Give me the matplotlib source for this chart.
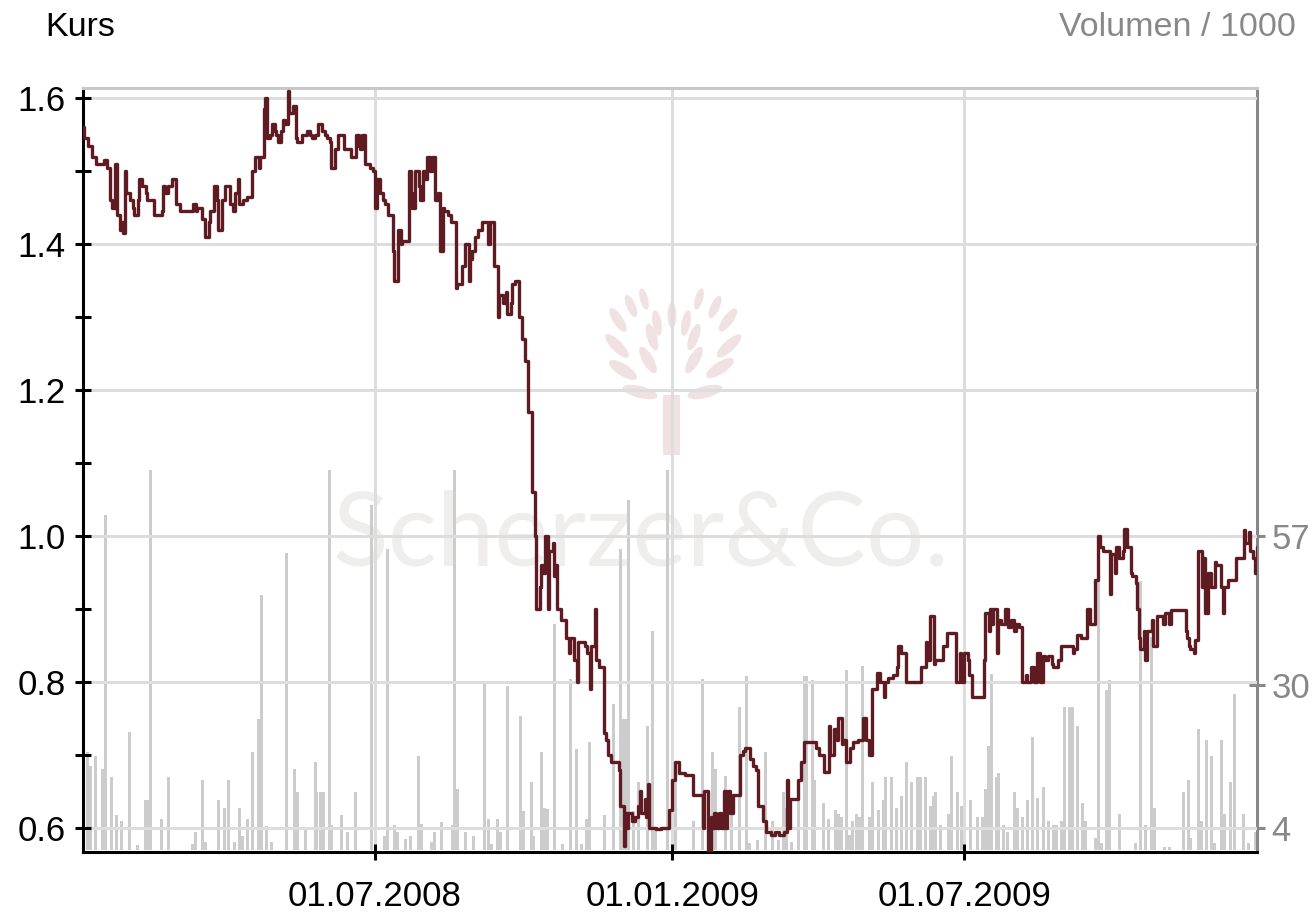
import matplotlib
matplotlib.use('Agg')
import matplotlib.pyplot as plt
import matplotlib.dates as mdates
from matplotlib.patches import Ellipse, Rectangle
import pandas as pd

plt.rcParams['font.family'] = ['Liberation Sans', 'DejaVu Sans']

start = pd.Timestamp('2008-01-01')

# Kurs: days since 01.01.2008 and closing price
kurs_tag = [1, 2, 4, 7, 9, 13, 14, 16, 18, 19,
            21, 22, 24, 25, 26, 27, 28, 30, 32, 33,
            35, 36, 38, 40, 41, 43, 45, 48, 50, 51,
            52, 54, 56, 58, 59, 61, 65, 67, 69, 71,
            72, 75, 77, 79, 80, 82, 84, 85, 87, 89,
            90, 92, 94, 95, 97, 98, 100, 102, 103, 105,
            106, 108, 110, 111, 113, 114, 115, 117, 118, 120,
            121, 122, 124, 125, 126, 128, 129, 131, 133, 134,
            137, 139, 140, 142, 143, 145, 147, 149, 151, 152,
            154, 155, 157, 159, 162, 163, 165, 167, 168, 170,
            172, 173, 174, 176, 178, 179, 181, 182, 183, 185,
            187, 188, 190, 193, 194, 196, 198, 199, 201, 203,
            204, 205, 207, 209, 210, 212, 213, 214, 216, 217,
            219, 221, 222, 224, 225, 227, 229, 230, 232, 233,
            236, 238, 240, 241, 242, 244, 246, 248, 250, 252,
            253, 255, 256, 258, 259, 261, 263, 264, 266, 267,
            269, 271, 273, 275, 277, 279, 281, 282, 284, 285,
            286, 287, 289, 290, 292, 293, 294, 295, 297, 300,
            302, 303, 304, 305, 307, 308, 310, 312, 313, 315,
            316, 318, 319, 321, 322, 324, 325, 326, 328, 330,
            333, 334, 336, 337, 338, 339, 341, 343, 345, 346,
            347, 349, 350, 351, 352, 354, 356, 359, 363, 364,
            366, 368, 370, 374, 377, 379, 382, 385, 386, 388,
            390, 391, 392, 393, 395, 396, 398, 399, 400, 402,
            404, 406, 408, 410, 411, 414, 416, 418, 419, 422,
            424, 427, 430, 432, 435, 437, 438, 439, 442, 444,
            446, 448, 451, 453, 455, 457, 460, 463, 464, 466,
            468, 469, 471, 472, 474, 476, 478, 481, 484, 486,
            488, 490, 493, 495, 497, 498, 500, 503, 505, 506,
            508, 509, 511, 515, 518, 520, 522, 523, 524, 526,
            528, 529, 531, 534, 536, 539, 542, 544, 545, 547,
            549, 550, 552, 555, 558, 559, 560, 562, 563, 564,
            565, 567, 568, 570, 572, 574, 576, 578, 579, 581,
            583, 585, 586, 588, 590, 592, 594, 596, 597, 599,
            601, 602, 605, 607, 608, 610, 612, 614, 615, 617,
            619, 621, 623, 625, 627, 628, 630, 631, 633, 635,
            636, 637, 638, 640, 641, 643, 645, 646, 648, 649,
            650, 651, 653, 654, 655, 656, 658, 659, 660, 661,
            663, 664, 666, 669, 670, 671, 674, 675, 678, 680,
            682, 684, 685, 686, 687, 689, 690, 692, 694, 695,
            696, 698, 700, 702, 703, 705, 706, 707, 708, 710,
            712, 715, 719, 720, 721, 723, 724, 726, 727, 728,
            729]
kurs = [1.56, 1.545, 1.535, 1.52, 1.51, 1.51, 1.515, 1.505, 1.46, 1.45,
        1.51, 1.44, 1.42, 1.43, 1.415, 1.50, 1.47, 1.46, 1.45, 1.44,
        1.46, 1.49, 1.48, 1.47, 1.46, 1.46, 1.44, 1.44, 1.445, 1.48,
        1.47, 1.48, 1.49, 1.49, 1.455, 1.445, 1.445, 1.445, 1.455, 1.445,
        1.45, 1.435, 1.41, 1.43, 1.445, 1.48, 1.46, 1.42, 1.46, 1.48,
        1.48, 1.455, 1.445, 1.47, 1.49, 1.455, 1.46, 1.46, 1.465, 1.465,
        1.50, 1.52, 1.505, 1.52, 1.585, 1.60, 1.545, 1.55, 1.565, 1.555,
        1.55, 1.54, 1.555, 1.57, 1.565, 1.61, 1.58, 1.59, 1.545, 1.54,
        1.55, 1.55, 1.555, 1.55, 1.545, 1.55, 1.565, 1.555, 1.55, 1.545,
        1.54, 1.505, 1.53, 1.55, 1.55, 1.53, 1.53, 1.52, 1.52, 1.55,
        1.535, 1.53, 1.55, 1.51, 1.51, 1.505, 1.50, 1.45, 1.49, 1.47,
        1.46, 1.455, 1.44, 1.39, 1.35, 1.42, 1.40, 1.405, 1.405, 1.50,
        1.47, 1.45, 1.50, 1.48, 1.46, 1.50, 1.49, 1.52, 1.50, 1.52,
        1.46, 1.47, 1.39, 1.45, 1.445, 1.44, 1.43, 1.43, 1.34, 1.345,
        1.37, 1.40, 1.35, 1.38, 1.39, 1.41, 1.42, 1.43, 1.43, 1.40,
        1.43, 1.43, 1.37, 1.30, 1.33, 1.32, 1.335, 1.305, 1.32, 1.345,
        1.35, 1.30, 1.27, 1.24, 1.17, 1.06, 1.00, 0.90, 0.93, 0.96,
        0.95, 1.00, 0.90, 0.98, 0.99, 0.945, 0.96, 0.90, 0.885, 0.86,
        0.84, 0.86, 0.86, 0.83, 0.80, 0.855, 0.855, 0.85, 0.84, 0.79,
        0.85, 0.90, 0.83, 0.82, 0.82, 0.73, 0.72, 0.70, 0.69, 0.69,
        0.68, 0.63, 0.575, 0.62, 0.60, 0.62, 0.61, 0.615, 0.63, 0.65,
        0.62, 0.64, 0.615, 0.66, 0.60, 0.60, 0.598, 0.60, 0.60, 0.625,
        0.665, 0.69, 0.675, 0.673, 0.673, 0.645, 0.645, 0.60, 0.65, 0.565,
        0.615, 0.60, 0.62, 0.60, 0.62, 0.60, 0.65, 0.60, 0.65, 0.62,
        0.645, 0.645, 0.70, 0.705, 0.71, 0.695, 0.685, 0.68, 0.63, 0.61,
        0.595, 0.59, 0.595, 0.59, 0.595, 0.665, 0.60, 0.64, 0.64, 0.665,
        0.69, 0.718, 0.718, 0.718, 0.71, 0.70, 0.677, 0.74, 0.70, 0.735,
        0.72, 0.75, 0.715, 0.72, 0.69, 0.71, 0.718, 0.72, 0.75, 0.72,
        0.70, 0.79, 0.812, 0.80, 0.78, 0.80, 0.805, 0.81, 0.82, 0.85,
        0.84, 0.84, 0.80, 0.80, 0.80, 0.82, 0.82, 0.855, 0.83, 0.89,
        0.825, 0.83, 0.83, 0.85, 0.867, 0.867, 0.80, 0.84, 0.80, 0.84,
        0.83, 0.81, 0.78, 0.78, 0.78, 0.83, 0.895, 0.87, 0.90, 0.88,
        0.90, 0.84, 0.885, 0.88, 0.90, 0.875, 0.885, 0.87, 0.88, 0.875,
        0.80, 0.81, 0.80, 0.82, 0.80, 0.84, 0.80, 0.835, 0.83, 0.835,
        0.825, 0.82, 0.83, 0.85, 0.85, 0.85, 0.85, 0.84, 0.845, 0.865,
        0.86, 0.86, 0.90, 0.88, 0.88, 0.94, 1.00, 0.985, 0.98, 0.98,
        0.98, 0.92, 0.975, 0.95, 0.985, 0.97, 0.98, 1.01, 0.985, 0.985,
        0.95, 0.945, 0.935, 0.90, 0.86, 0.845, 0.87, 0.83, 0.87, 0.87,
        0.885, 0.85, 0.89, 0.89, 0.88, 0.895, 0.88, 0.898, 0.898, 0.898,
        0.898, 0.87, 0.86, 0.85, 0.845, 0.84, 0.858, 0.98, 0.93, 0.97,
        0.895, 0.95, 0.93, 0.965, 0.96, 0.96, 0.93, 0.895, 0.93, 0.94,
        0.94, 0.97, 0.97, 1.008, 0.99, 1.005, 0.98, 0.97, 0.95, 0.985,
        0.965]

# Volumen / 1000: days since 01.01.2008
vol_tag = [4, 6, 9, 13, 15, 19, 22, 25, 30, 35,
           40, 41, 43, 50, 54, 69, 71, 75, 77, 85,
           89, 91, 95, 98, 100, 103, 106, 110, 112, 115,
           118, 127, 132, 134, 139, 145, 146, 148, 150, 154,
           155, 161, 165, 170, 180, 188, 190, 194, 196, 201,
           204, 209, 211, 217, 219, 223, 230, 231, 233, 238,
           243, 250, 252, 254, 258, 260, 264, 272, 274, 279,
           280, 285, 287, 289, 293, 298, 303, 307, 310, 313,
           315, 324, 330, 334, 336, 338, 339, 342, 345, 351,
           354, 356, 363, 366, 368, 379, 385, 391, 393, 399,
           403, 408, 412, 414, 419, 424, 428, 432, 435, 437,
           440, 444, 448, 449, 453, 454, 460, 463, 467, 469,
           471, 474, 476, 478, 480, 482, 484, 488, 490, 494,
           497, 498, 502, 505, 508, 511, 514, 518, 520, 523,
           526, 528, 529, 532, 537, 539, 543, 545, 547, 551,
           555, 558, 560, 562, 564, 567, 568, 571, 574, 578,
           580, 583, 586, 589, 592, 596, 599, 602, 604, 607,
           609, 612, 614, 617, 620, 622, 628, 630, 632, 635,
           637, 643, 653, 656, 659, 663, 665, 671, 674, 683,
           686, 687, 692, 694, 697, 700, 702, 706, 708, 712,
           714, 720, 723, 727]
volumen = [17.8, 15.3, 17, 14.7, 60.8, 13.3, 6.4, 5.2, 21.4, 0.9,
           9.1, 9.1, 69, 5.7, 13.3, 1, 3.3, 12.8, 1.5, 9.1,
           7.7, 12.8, 1.5, 7.7, 2.6, 5.7, 17.8, 23.8, 46.4, 4.3,
           1.5, 54, 14.7, 10.5, 4, 16, 10.5, 10.5, 10.5, 69,
           4.5, 6.4, 3.3, 10.5, 62.6, 2.6, 54.7, 4.5, 3.3, 2,
           2.6, 17, 4.8, 1.5, 3.3, 5, 4.5, 69, 11, 3.3,
           2.6, 30.2, 5.7, 1, 5.7, 3.3, 29.7, 24.3, 7, 12.3,
           2.6, 17.8, 7.7, 7.5, 41, 1, 31, 18.4, 1, 5.7,
           19.6, 6.3, 26.6, 54.7, 23.8, 23.8, 63.6, 7, 12.3, 22.6,
           39.7, 3.7, 69, 12.3, 12.3, 5.2, 31, 17.8, 14.7, 13.4,
           8, 26, 31.6, 1.2, 1.8, 17.8, 5.2, 1.8, 10.5, 7.7,
           1.5, 9.1, 31.6, 31.6, 30.8, 12.8, 8.5, 5.7, 7.2, 6.6,
           6, 32.6, 2.8, 5.2, 6.6, 6, 33.4, 6, 12.3, 7.2,
           9.1, 13.3, 13.3, 7.7, 9.8, 16, 12.3, 13.3, 13.3, 13.3,
           8, 9.8, 10.5, 4.5, 6.6, 17, 10.5, 8, 14, 9.1,
           6, 6, 11, 18.8, 32, 13.3, 14, 4.5, 3.3, 10.5,
           7.7, 6, 9.1, 20.6, 9.5, 11.5, 5.2, 4.5, 4.5, 5.2,
           26, 26, 26, 22.6, 8.5, 5.2, 2.2, 50, 1.2, 29,
           30.8, 6.6, 1.2, 48.9, 4.5, 38.6, 7.7, 0.5, 0.5, 10.5,
           12.8, 2.2, 21.9, 5.2, 20, 17, 1.2, 20, 6.6, 12.3,
           28.4, 6.6, 1.2, 3.3]

x_ticks = ['2008-07-01', '2009-01-01', '2009-07-01']
x_labels = ['01.07.2008', '01.01.2009', '01.07.2009']
kurs_ticks = [0.6, 0.8, 1.0, 1.2, 1.4, 1.6]
kurs_minor = [0.7, 0.9, 1.1, 1.3, 1.5]
vol_ticks = [4, 30, 57]

kurs_datum = mdates.date2num(start + pd.to_timedelta(kurs_tag, unit='D'))
vol_datum = mdates.date2num(start + pd.to_timedelta(vol_tag, unit='D'))
t0 = mdates.date2num(start)

fig = plt.figure(figsize=(13.14, 9.19), dpi=100)
fig.patch.set_facecolor('white')

# watermark (logo + name) behind everything
wm = fig.add_axes([0, 0, 1, 1], zorder=0)
wm.set_xlim(0, 1314)
wm.set_ylim(0, 919)
wm.axis('off')
leaf_col = '#f0e2e2'
leaves = [(640, 392, 166, 36, 12), (705, 392, 14, 36, 12),
          (623, 370, 148, 32, 12), (720, 368, 33, 32, 12),
          (648, 360, 120, 30, 11), (694, 360, 60, 30, 11),
          (617, 346, 135, 32, 11), (729, 346, 43, 32, 11),
          (652, 337, 107, 28, 10), (694, 337, 70, 28, 10),
          (618, 320, 123, 28, 10), (728, 320, 54, 28, 10),
          (657, 323, 100, 26, 9), (686, 323, 79, 26, 9),
          (631, 306, 113, 24, 9), (715, 307, 65, 24, 9),
          (644, 299, 105, 22, 8), (699, 299, 74, 22, 8),
          (672, 315, 90, 26, 9)]
for cx, cy, ang, w, h in leaves:
    wm.add_patch(Ellipse((cx, 919 - cy), w, h, angle=ang, color=leaf_col, lw=0))
wm.add_patch(Rectangle((663, 919 - 455), 17, 60, color=leaf_col, lw=0))
wm.text(641, 919 - 565, 'Scherzer&Co.', fontsize=74, color='#f0eeec',
        ha='center', va='baseline', family=['Lato', 'DejaVu Sans'])

ax = fig.add_axes([0.0632, 0.0729, 0.8935, 0.8313])
ax2 = ax.twinx()
ax.set_zorder(2)
ax2.set_zorder(1)
ax.patch.set_visible(False)
ax2.patch.set_visible(False)

ax2.bar(vol_datum, volumen, width=1.85, color='#cccccc', lw=0)
ax.plot(kurs_datum, kurs, color='#5e1b22', lw=2.4, drawstyle='steps-post',
        zorder=3)

ax.set_xlim(t0 + 1.2, t0 + 728.3)
ax.set_ylim(0.567, 1.614)
ax2.set_ylim(-0.37, 138.4)

ax.set_xticks(mdates.date2num(pd.to_datetime(x_ticks)))
ax.set_xticklabels(x_labels)
ax.set_yticks(kurs_ticks)
ax.set_yticklabels([f'{v:.1f}' for v in kurs_ticks])
ax.set_yticks(kurs_minor, minor=True)
ax2.set_yticks(vol_ticks)
ax2.set_yticklabels([str(v) for v in vol_ticks])

ax.grid(True, which='major', color='#dddddd', lw=2.2)

ax.tick_params(axis='y', which='both', direction='inout', length=11, width=2.2,
               colors='black', labelsize=25, pad=7)
ax.tick_params(axis='x', direction='inout', length=11, width=2.2,
               colors='black', labelsize=25, pad=15)
ax2.tick_params(axis='y', direction='inout', length=11, width=2.2,
                colors='#888888', labelsize=25, pad=5)

for s in ['left', 'bottom']:
    ax.spines[s].set_color('black')
    ax.spines[s].set_linewidth(2.2)
ax.spines['top'].set_color('#c8c8c8')
ax.spines['top'].set_linewidth(2.2)
ax.spines['right'].set_visible(False)
for s in ['left', 'bottom', 'top']:
    ax2.spines[s].set_visible(False)
ax2.spines['right'].set_color('#888888')
ax2.spines['right'].set_linewidth(2.2)

fig.text(45 / 1314, 1 - 36 / 919, 'Kurs', fontsize=24.5, color='black',
         ha='left', va='baseline')
fig.text(1296 / 1314, 1 - 36 / 919, 'Volumen / 1000', fontsize=24.5,
         color='#888888', ha='right', va='baseline')

fig.savefig('out.png', dpi=100, facecolor='white')
